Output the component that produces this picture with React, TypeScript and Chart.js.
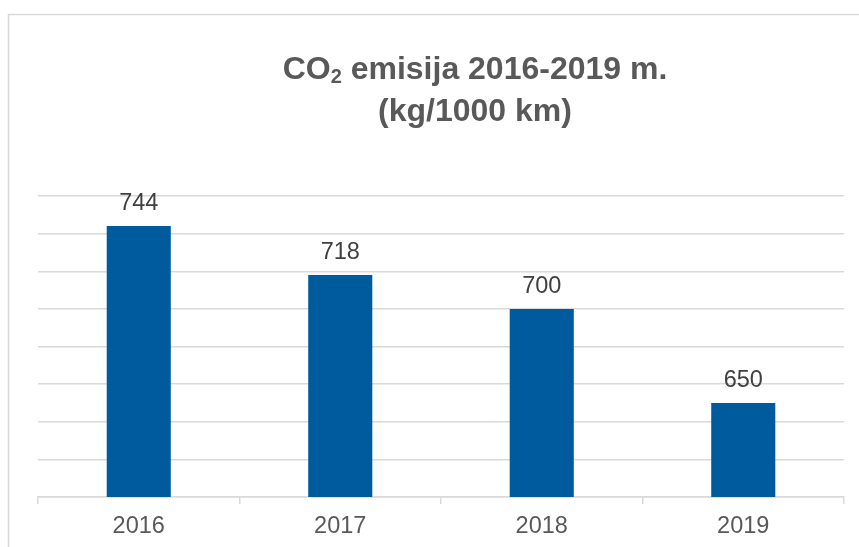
import React, { useEffect, useRef } from "react";
import { Chart, registerables } from "chart.js";

Chart.register(...registerables);

const categories = ["2016", "2017", "2018", "2019"];
const values = [744, 718, 700, 650];
const titleMain = "CO";
const titleSub = "2";
const titleRest = " emisija 2016-2019 m.";
const titleLine2 = "(kg/1000 km)";
const yMin = 600;
const yMax = 760;
const yStep = 20;

const FONT = "'Liberation Sans', Arial, sans-serif";
const BAR_COLOR = "#005A9E";
const GRID_COLOR = "#d9d9d9";
const TEXT_COLOR = "#595959";

const borderPlugin = {
  id: "frameBorder",
  beforeDraw(chart: any) {
    const ctx = chart.ctx;
    ctx.save();
    ctx.strokeStyle = GRID_COLOR;
    ctx.lineWidth = 1.5;
    ctx.beginPath();
    ctx.moveTo(8.5, chart.height);
    ctx.lineTo(8.5, 14.5);
    ctx.lineTo(chart.width, 14.5);
    ctx.stroke();
    ctx.restore();
  },
};

const titlePlugin = {
  id: "customTitle",
  afterDraw(chart: any) {
    const ctx = chart.ctx;
    ctx.save();
    ctx.fillStyle = TEXT_COLOR;
    ctx.textBaseline = "alphabetic";
    const cx = 475;
    const big = `bold 32px ${FONT}`;
    const small = `bold 20px ${FONT}`;
    ctx.font = big;
    const w1 = ctx.measureText(titleMain).width;
    const w3 = ctx.measureText(titleRest).width;
    ctx.font = small;
    const w2 = ctx.measureText(titleSub).width;
    const total = w1 + w2 + w3;
    let x = cx - total / 2;
    const y1 = 79;
    ctx.textAlign = "left";
    ctx.font = big;
    ctx.fillText(titleMain, x, y1);
    x += w1;
    ctx.font = small;
    ctx.fillText(titleSub, x, y1 + 4);
    x += w2;
    ctx.font = big;
    ctx.fillText(titleRest, x, y1);
    ctx.textAlign = "center";
    ctx.fillText(titleLine2, cx, 121);
    ctx.restore();
  },
};

const valueLabelPlugin = {
  id: "valueLabels",
  afterDatasetsDraw(chart: any) {
    const ctx = chart.ctx;
    const meta = chart.getDatasetMeta(0);
    ctx.save();
    ctx.fillStyle = "#404040";
    ctx.font = `23.5px ${FONT}`;
    ctx.textAlign = "center";
    ctx.textBaseline = "alphabetic";
    meta.data.forEach((bar: any, i: number) => {
      ctx.fillText(String(values[i]), bar.x, bar.y - 16);
    });
    ctx.restore();
  },
};

export default function App() {
  const canvasRef = useRef<HTMLCanvasElement | null>(null);

  useEffect(() => {
    if (!canvasRef.current) return;
    const chart = new Chart(canvasRef.current, {
      type: "bar",
      data: {
        labels: categories,
        datasets: [
          {
            data: values,
            backgroundColor: BAR_COLOR,
            borderWidth: 0,
            barPercentage: 0.318,
            categoryPercentage: 1,
          },
        ],
      },
      options: {
        responsive: false,
        animation: false,
        devicePixelRatio: 1,
        layout: { padding: { top: 196, left: 38, right: 15, bottom: 0 } },
        plugins: {
          legend: { display: false },
          title: { display: false },
          tooltip: { enabled: false },
        },
        scales: {
          x: {
            offset: true,
            grid: {
              display: true,
              drawOnChartArea: false,
              drawTicks: true,
              tickLength: 7,
              color: GRID_COLOR,
              lineWidth: 1.5,
              offset: true,
            },
            border: { display: true, color: GRID_COLOR, width: 1.5 },
            ticks: {
              color: TEXT_COLOR,
              font: { family: FONT, size: 23.5 },
              padding: 8,
              maxRotation: 0,
            },
            afterFit(scale: any) {
              scale.height = 50;
            },
          },
          y: {
            min: yMin,
            max: yMax,
            ticks: { display: false, stepSize: yStep },
            grid: {
              color: GRID_COLOR,
              lineWidth: 1.5,
              drawTicks: false,
            },
            border: { display: false },
            afterFit(scale: any) {
              scale.width = 0;
            },
          },
        },
      },
      plugins: [borderPlugin, titlePlugin, valueLabelPlugin],
    });
    return () => chart.destroy();
  }, []);

  return (
    <div style={{ position: "fixed", left: 0, top: 0, width: 859, height: 547, background: "#fff" }}>
      <canvas ref={canvasRef} width={859} height={547} style={{ display: "block" }} />
    </div>
  );
}
